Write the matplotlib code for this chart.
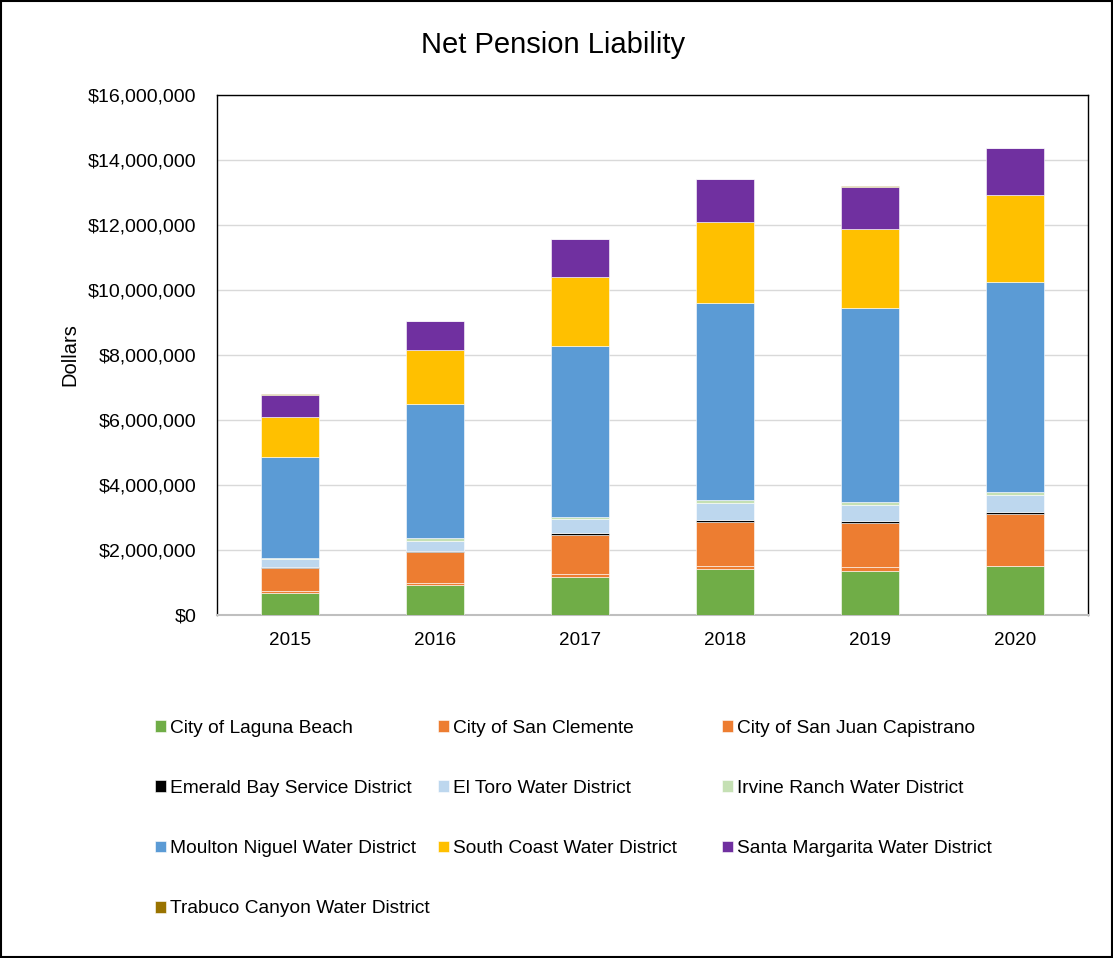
import matplotlib
matplotlib.use("Agg")
import matplotlib.pyplot as plt
from matplotlib.ticker import FuncFormatter, MultipleLocator
from matplotlib.patches import Rectangle
import numpy as np

plt.rcParams['font.family'] = ['Liberation Sans', 'DejaVu Sans']

# Data (millions of dollars)
years = ['2015', '2016', '2017', '2018', '2019', '2020']
laguna_beach = [0.69, 0.91, 1.18, 1.41, 1.36, 1.51]
san_clemente = [0.06, 0.08, 0.08, 0.10, 0.11, 0.00]
san_juan_capistrano = [0.69, 0.95, 1.21, 1.36, 1.37, 1.59]
emerald_bay = [0.03, 0.03, 0.04, 0.05, 0.05, 0.06]
el_toro = [0.24, 0.31, 0.43, 0.52, 0.49, 0.52]
irvine_ranch = [0.05, 0.08, 0.09, 0.10, 0.10, 0.10]
moulton_niguel = [3.09, 4.13, 5.26, 6.07, 5.96, 6.48]
south_coast = [1.25, 1.65, 2.11, 2.47, 2.44, 2.67]
santa_margarita = [0.68, 0.90, 1.16, 1.33, 1.30, 1.44]
trabuco_canyon = [0.01, 0.01, 0.01, 0.02, 0.01, 0.01]

series = [
    ('City of Laguna Beach', laguna_beach, '#70AD47'),
    ('City of San Clemente', san_clemente, '#ED7D31'),
    ('City of San Juan Capistrano', san_juan_capistrano, '#ED7D31'),
    ('Emerald Bay Service District', emerald_bay, '#000000'),
    ('El Toro Water District', el_toro, '#BDD7EE'),
    ('Irvine Ranch Water District', irvine_ranch, '#C5E0B4'),
    ('Moulton Niguel Water District', moulton_niguel, '#5B9BD5'),
    ('South Coast Water District', south_coast, '#FFC000'),
    ('Santa Margarita Water District', santa_margarita, '#7030A0'),
    ('Trabuco Canyon Water District', trabuco_canyon, '#997300'),
]

fig = plt.figure(figsize=(11.13, 9.58), dpi=100)
ax = fig.add_axes([217 / 1113, 1 - 615 / 958, (1088 - 217) / 1113, (615 - 95) / 958])

x = np.arange(len(years))
bottom = np.zeros(len(years))
handles = []
for name, vals, color in series:
    v = np.array(vals) * 1e6
    b = ax.bar(x, v, 0.4, bottom=bottom, color=color, edgecolor='white',
               linewidth=0.4, label=name, zorder=3)
    handles.append(b)
    bottom += v

ax.set_xlim(-0.5, len(years) - 0.5)
ax.set_ylim(0, 16e6)
ax.yaxis.set_major_locator(MultipleLocator(2e6))
ax.yaxis.set_major_formatter(FuncFormatter(lambda v, p: f"${v:,.0f}"))
ax.set_xticks(x)
ax.set_xticklabels(years)
ax.tick_params(axis='y', length=0, pad=15, labelsize=14)
ax.tick_params(axis='x', length=0, pad=12, labelsize=13.6)
ax.grid(axis='y', color='#d9d9d9', linewidth=1, zorder=0)
for s in ['top', 'right', 'left']:
    ax.spines[s].set_color('black')
    ax.spines[s].set_linewidth(1)
ax.spines['bottom'].set_color('#bfbfbf')
ax.spines['bottom'].set_linewidth(1.5)

fig.text(553 / 1113, 1 - 45 / 958, 'Net Pension Liability', ha='center',
         va='center', fontsize=21)
fig.text(70 / 1113, 1 - 355 / 958, 'Dollars', ha='center', va='center',
         rotation=90, fontsize=14.5)

# legend: three fixed-width columns, filled row by row
col_x = [155, 438, 722]
for c in range(3):
    hs = handles[c::3]
    fig.legend(hs, [h.get_label() for h in hs], loc='upper left',
               bbox_to_anchor=(col_x[c] / 1113, 1 - 720 / 958),
               frameon=False, fontsize=13.8, borderpad=0, borderaxespad=0,
               handlelength=0.58, handleheight=0.58, handletextpad=0.18,
               labelspacing=2.25)

fig.patches.append(Rectangle((0.001, 0.001), 0.998, 0.998, transform=fig.transFigure,
                             fill=False, edgecolor='black', linewidth=1.5))

fig.savefig('out.png', dpi=100)
